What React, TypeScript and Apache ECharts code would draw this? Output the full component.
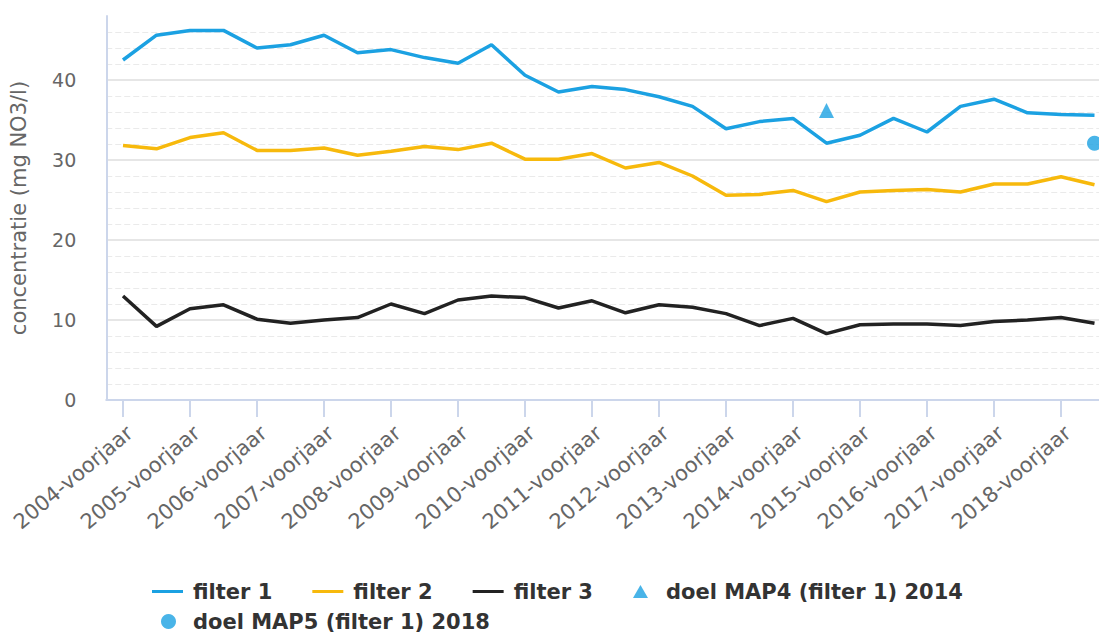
import React, { useEffect, useRef } from "react";
import * as echarts from "echarts";

const categories = [
  "2004-voorjaar", "2004-najaar", "2005-voorjaar", "2005-najaar", "2006-voorjaar", "2006-najaar",
  "2007-voorjaar", "2007-najaar", "2008-voorjaar", "2008-najaar", "2009-voorjaar", "2009-najaar",
  "2010-voorjaar", "2010-najaar", "2011-voorjaar", "2011-najaar", "2012-voorjaar", "2012-najaar",
  "2013-voorjaar", "2013-najaar", "2014-voorjaar", "2014-najaar", "2015-voorjaar", "2015-najaar",
  "2016-voorjaar", "2016-najaar", "2017-voorjaar", "2017-najaar", "2018-voorjaar", "2018-najaar",
];

const filter1 = [
  42.5, 45.6, 46.2, 46.2, 44.0, 44.4, 45.6, 43.4, 43.8, 42.8,
  42.1, 44.4, 40.6, 38.5, 39.2, 38.8, 37.9, 36.7, 33.9, 34.8,
  35.2, 32.1, 33.1, 35.2, 33.5, 36.7, 37.6, 35.9, 35.7, 35.6,
];
const filter2 = [
  31.8, 31.4, 32.8, 33.4, 31.2, 31.2, 31.5, 30.6, 31.1, 31.7,
  31.3, 32.1, 30.1, 30.1, 30.8, 29.0, 29.7, 28.0, 25.6, 25.7,
  26.2, 24.8, 26.0, 26.2, 26.3, 26.0, 27.0, 27.0, 27.9, 26.9,
];
const filter3 = [
  13.0, 9.2, 11.4, 11.9, 10.1, 9.6, 10.0, 10.3, 12.0, 10.8,
  12.5, 13.0, 12.8, 11.5, 12.4, 10.9, 11.9, 11.6, 10.8, 9.3,
  10.2, 8.3, 9.4, 9.5, 9.5, 9.3, 9.8, 10.0, 10.3, 9.6,
];
const doelMap4Category = "2014-najaar";
const doelMap4Value = 36.2;
const doelMap5Category = "2018-najaar";
const doelMap5Value = 32.1;

const seriesNames = [
  "filter 1",
  "filter 2",
  "filter 3",
  "doel MAP4 (filter 1) 2014",
  "doel MAP5 (filter 1) 2018",
];

const BLUE = "#1ba1e2";
const YELLOW = "#f7b90c";
const BLACK = "#222222";
const FONT = "DejaVu Sans";

const LINE_ICON = "path://M0,0H31V3H0Z";
const TRIANGLE_ICON = "path://M0,13L7.5,0L15,13Z";

export default function App() {
  const ref = useRef<HTMLDivElement>(null);
  useEffect(() => {
    document.body.style.margin = "0";
    if (!ref.current) return;
    const chart = echarts.init(ref.current, undefined, { renderer: "svg" });
    const legendText = {
      fontFamily: FONT,
      fontSize: 21,
      fontWeight: "bold" as const,
      color: "#333333",
      padding: [0, 0, 0, 5],
    };
    chart.setOption({
      animation: false,
      backgroundColor: "#ffffff",
      grid: {
        left: 106.25,
        top: 16,
        width: 1005,
        height: 384,
        containLabel: false,
        outerBoundsMode: "none",
      },
      legend: [
        {
          data: [
            { name: seriesNames[0], icon: LINE_ICON },
            { name: seriesNames[1], icon: LINE_ICON },
            { name: seriesNames[2], icon: LINE_ICON },
            { name: seriesNames[3], icon: TRIANGLE_ICON },
          ],
          left: 152,
          top: 581,
          padding: 0,
          orient: "horizontal",
          itemWidth: 31,
          itemHeight: 13,
          itemGap: 40,
          textStyle: legendText,
          selectedMode: false,
        },
        {
          data: [{ name: seriesNames[4], icon: "circle" }],
          left: 161,
          top: 611,
          padding: 0,
          orient: "horizontal",
          itemWidth: 15,
          itemHeight: 15,
          textStyle: { ...legendText, padding: [0, 0, 0, 12] },
          selectedMode: false,
        },
      ],
      xAxis: {
        type: "category",
        data: categories,
        boundaryGap: true,
        axisLine: { show: true, lineStyle: { color: "#ccd6eb", width: 2 } },
        axisTick: {
          show: true,
          alignWithLabel: true,
          interval: 1,
          length: 17,
          lineStyle: { color: "#ccd6eb", width: 2 },
        },
        axisLabel: {
          interval: 1,
          rotate: 40,
          align: "right",
          verticalAlign: "top",
          margin: 22,
          fontFamily: FONT,
          fontSize: 21,
          color: "#666666",
        },
        splitLine: { show: false },
      },
      yAxis: [
        {
          type: "value",
          min: 0,
          max: 48,
          interval: 10,
          name: "concentratie (mg NO3/l)",
          nameLocation: "middle",
          nameRotate: 90,
          nameGap: 77,
          nameTextStyle: { fontFamily: FONT, fontSize: 21, color: "#666666" },
          axisLine: { show: true, lineStyle: { color: "#ccd6eb", width: 2 } },
          axisTick: { show: false },
          axisLabel: {
            showMaxLabel: false,
            margin: 30,
            fontFamily: FONT,
            fontSize: 19,
            color: "#666666",
          },
          splitLine: {
            show: true,
            showMinLine: false,
            showMaxLine: false,
            lineStyle: { color: "#e6e6e6", width: 2, type: "solid" },
          },
          z: 2,
        },
        {
          type: "value",
          min: 0,
          max: 48,
          interval: 2,
          position: "left",
          axisLine: { show: false },
          axisTick: { show: false },
          axisLabel: { show: false },
          splitLine: {
            show: true,
            showMinLine: false,
            showMaxLine: false,
            lineStyle: { color: "#eaeaea", width: 1, type: [6, 3] },
          },
          z: 1,
        },
      ],
      series: [
        {
          name: seriesNames[0],
          type: "line",
          data: filter1,
          symbol: "none",
          color: BLUE,
          lineStyle: { color: BLUE, width: 3.5 },
          z: 5,
        },
        {
          name: seriesNames[1],
          type: "line",
          data: filter2,
          symbol: "none",
          color: YELLOW,
          lineStyle: { color: YELLOW, width: 3.5 },
          z: 5,
        },
        {
          name: seriesNames[2],
          type: "line",
          data: filter3,
          symbol: "none",
          color: BLACK,
          lineStyle: { color: BLACK, width: 3.5 },
          z: 5,
        },
        {
          name: seriesNames[3],
          type: "scatter",
          data: [[doelMap4Category, doelMap4Value]],
          symbol: "triangle",
          symbolSize: 15,
          itemStyle: { color: BLUE },
          z: 6,
        },
        {
          name: seriesNames[4],
          type: "scatter",
          data: [[doelMap5Category, doelMap5Value]],
          symbol: "circle",
          symbolSize: 15,
          itemStyle: { color: BLUE },
          z: 6,
        },
      ],
    });
    return () => chart.dispose();
  }, []);
  return <div ref={ref} style={{ width: 1099, height: 635 }} />;
}
